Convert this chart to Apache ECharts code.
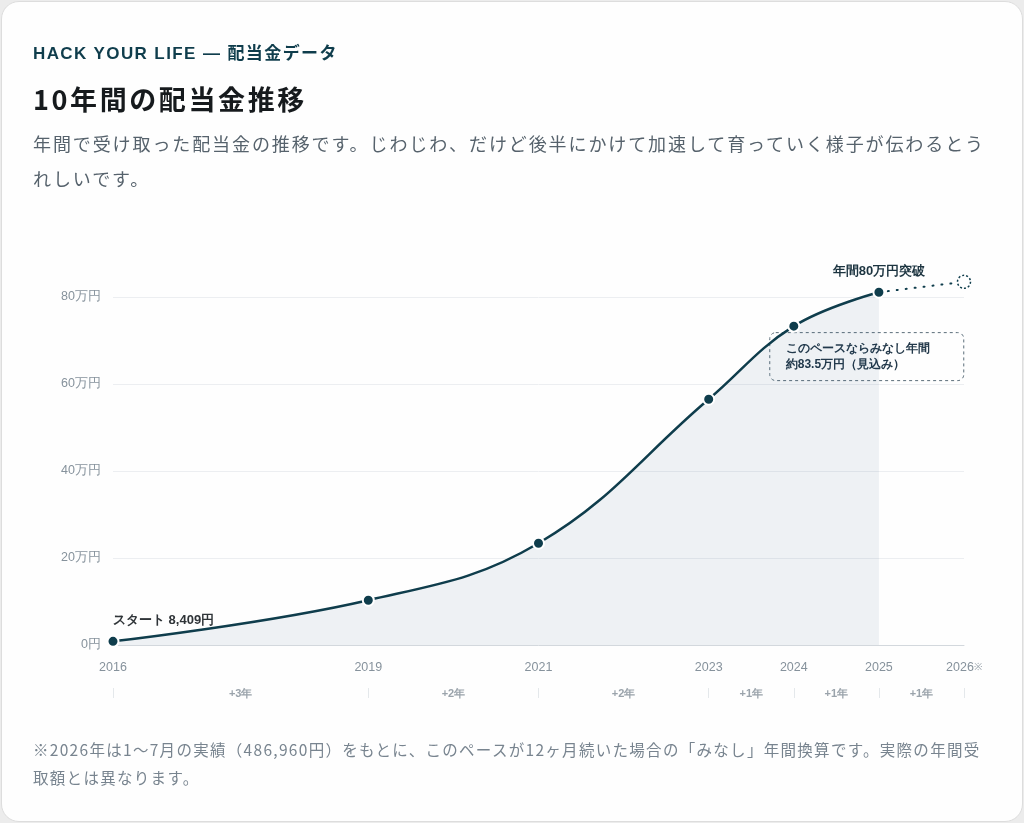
<!DOCTYPE html>
<html lang="ja">
<head>
<meta charset="utf-8">
<title>10年間の配当金推移</title>
<script src="https://cdn.jsdelivr.net/npm/echarts@6/dist/echarts.min.js"></script>
<style>
  html, body { margin: 0; padding: 0; background: #ececec; }
  body { width: 1024px; height: 823px; position: relative; overflow: hidden;
         font-family: "Noto Sans CJK JP", "Noto Sans", sans-serif; }
  .card { position: absolute; left: 1px; top: 1px; width: 1020px; height: 819px;
          border: 1px solid #dddddd; border-radius: 18px; background: #fefefe; }
  #chart { position: absolute; left: 0; top: 0; width: 1024px; height: 823px; z-index: 1; }
  .txt { position: absolute; left: 33px; width: 957px; z-index: 2; }
  .kicker { top: 43px; font-size: 17px; line-height: 22px; font-weight: 700; color: #0f3d4c; letter-spacing: 1.4px;
            font-family: "Liberation Sans", "Noto Sans CJK JP", sans-serif; }
  .title { top: 82px; font-size: 27px; line-height: 34px; font-weight: 700; color: #161a1d; letter-spacing: 2.6px; }
  .lead { top: 126px; font-size: 18px; line-height: 35px; color: #56626c; letter-spacing: 1.9px; }
  .note { top: 735px; font-size: 15.5px; line-height: 28px; color: #78848f; letter-spacing: 1.3px; }
</style>
</head>
<body>
<div class="card"></div>
<div class="txt kicker">HACK YOUR LIFE — 配当金データ</div>
<div class="txt title">10年間の配当金推移</div>
<div class="txt lead">年間で受け取った配当金の推移です。じわじわ、だけど後半にかけて加速して育っていく様子が伝わるとうれしいです。</div>
<div id="chart"></div>
<div class="txt note">※2026年は1〜7月の実績（486,960円）をもとに、このペースが12ヶ月続いた場合の「みなし」年間換算です。実際の年間受取額とは異なります。</div>
<script>
// 年ごとの受取額（円）
var years = [2016, 2019, 2021, 2023, 2024, 2025];
var amounts = [8409, 103000, 234000, 565000, 733000, 811000];
// 2026年は見込み（486,960円 ÷ 7 × 12）
var projYears = [2025, 2026];
var projAmounts = [811000, 834800];
var yearTicks = [2016, 2019, 2021, 2023, 2024, 2025, 2026];
var gapLabels = ['+3年', '+2年', '+2年', '+1年', '+1年', '+1年'];

var INK = '#0f3d4c';

var gapMids = [];
for (var i = 0; i < yearTicks.length - 1; i++) {
    gapMids.push((yearTicks[i] + yearTicks[i + 1]) / 2);
}

var mainData = years.map(function (y, i) { return [y, amounts[i]]; });
mainData[0] = {
    value: [years[0], amounts[0]],
    label: {
        show: true, position: 'top', align: 'left', distance: 8,
        formatter: 'スタート 8,409円',
        color: '#2f3438', fontSize: 13, fontWeight: 'bold'
    }
};
mainData[5] = {
    value: [years[5], amounts[5]],
    label: {
        show: true, position: 'top', distance: 8,
        formatter: '年間80万円突破',
        color: '#1c3440', fontSize: 13, fontWeight: 'bold'
    }
};

var projData = [
    { value: [projYears[0], projAmounts[0]], symbol: 'none' },
    {
        value: [projYears[1], projAmounts[1]],
        label: {
            show: true, position: [-187, 58], align: 'left', verticalAlign: 'top',
            formatter: 'このペースならみなし年間\n約83.5万円（見込み）',
            color: '#23394a', fontSize: 12, fontWeight: 'bold', lineHeight: 16,
            width: 162, padding: [8, 16, 8, 16],
            borderColor: '#5b6e7a', borderWidth: 1, borderType: [3, 3], borderRadius: 6
        }
    }
];

var myChart = echarts.init(document.getElementById('chart'), null, { renderer: 'canvas' });
var option = {
    animation: false,
    backgroundColor: 'transparent',
    grid: { left: 113, right: 60, top: 210, bottom: 178, containLabel: false, outerBoundsMode: 'none' },
    xAxis: [
        {
            type: 'value', min: 2016, max: 2026,
            axisLine: { show: true, lineStyle: { color: '#d3d8dd', width: 1 } },
            axisTick: { show: false },
            splitLine: { show: false },
            axisLabel: {
                customValues: yearTicks, margin: 16,
                color: '#86929c', fontSize: 12.5,
                formatter: function (v) {
                    return v === 2026 ? '{y|2026}{m|※}' : String(v);
                },
                rich: {
                    y: { color: '#86929c', fontSize: 12.5 },
                    m: { color: '#9aa4ac', fontSize: 10 }
                }
            }
        },
        {
            type: 'value', min: 2016, max: 2026, position: 'bottom', offset: 43,
            axisLine: { show: false },
            axisTick: { show: true, customValues: yearTicks, length: 10, lineStyle: { color: '#e4e8eb' } },
            splitLine: { show: false },
            axisLabel: {
                customValues: gapMids, margin: 0,
                color: '#9aa3ab', fontSize: 11, fontWeight: 'bold',
                formatter: function (v) {
                    var k = gapMids.indexOf(v);
                    return k >= 0 ? gapLabels[k] : '';
                }
            }
        }
    ],
    yAxis: {
        type: 'value', min: 0, max: 1000000, interval: 200000,
        axisLine: { show: false },
        axisTick: { show: false },
        splitLine: { show: true, showMaxLine: false, lineStyle: { color: '#eceef1', width: 1 } },
        axisLabel: {
            showMaxLabel: false, margin: 12,
            color: '#86929c', fontSize: 12.5,
            formatter: function (v) { return v === 0 ? '0円' : (v / 10000) + '万円'; }
        }
    },
    series: [
        {
            type: 'line', xAxisIndex: 0,
            data: mainData,
            smooth: 0.4,
            symbol: 'circle', symbolSize: 11,
            lineStyle: { color: INK, width: 2.5 },
            itemStyle: { color: INK, borderColor: '#ffffff', borderWidth: 2 },
            areaStyle: { color: 'rgba(25,70,110,0.1)' },
            z: 3
        },
        {
            type: 'line', xAxisIndex: 0,
            data: projData,
            symbol: 'circle', symbolSize: 13,
            lineStyle: { color: INK, width: 2, type: [1, 8], cap: 'round' },
            itemStyle: { color: '#ffffff', borderColor: INK, borderWidth: 1.5, borderType: [2, 2] },
            z: 2
        }
    ]
};
myChart.setOption(option);
window.onresize = function () {
    myChart.resize();
};
</script>
</body>
</html>
